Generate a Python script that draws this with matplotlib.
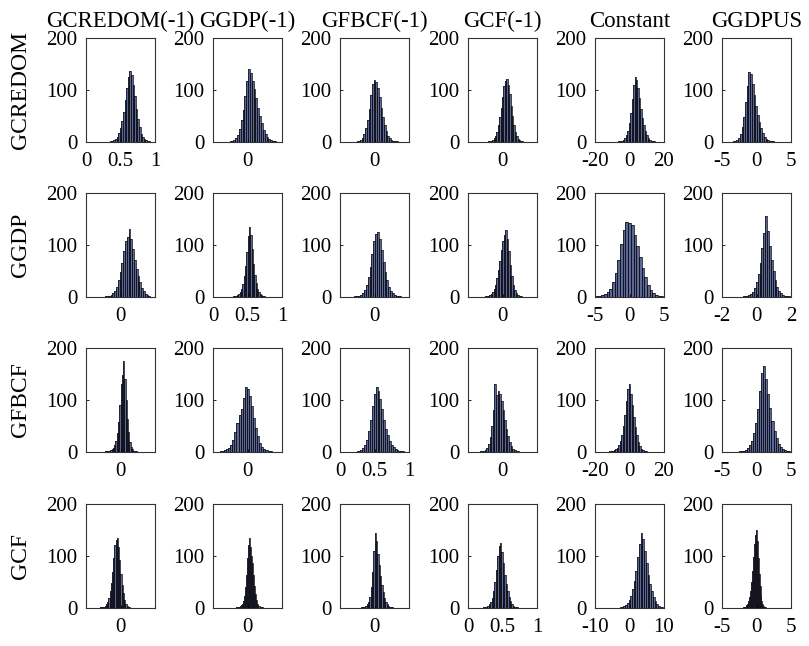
import matplotlib
matplotlib.use('Agg')
import matplotlib.pyplot as plt
import numpy as np

plt.rcParams['font.family'] = ['Liberation Serif', 'DejaVu Serif']

columns = ['GCREDOM(-1)', 'GGDP(-1)', 'GFBCF(-1)', 'GCF(-1)', 'Constant', 'GGDPUS']
rows = ['GCREDOM', 'GGDP', 'GFBCF', 'GCF']

# histogram counts (25 bins each)
gcredom_counts = [
    [1, 2, 3, 6, 10, 17, 27, 40, 58, 80, 104, 125, 137, 128, 110, 88, 64, 44, 28, 16, 9, 5, 3, 1, 1],
    [1, 2, 4, 8, 14, 25, 42, 62, 88, 118, 140, 132, 118, 102, 84, 66, 50, 36, 24, 15, 9, 5, 3, 1, 1],
    [1, 2, 4, 8, 15, 26, 42, 64, 90, 112, 120, 116, 104, 86, 66, 48, 33, 21, 12, 7, 4, 2, 1, 1, 0],
    [1, 1, 2, 4, 7, 12, 20, 32, 48, 66, 86, 108, 118, 122, 110, 92, 70, 50, 33, 20, 11, 6, 3, 1, 1],
    [1, 1, 2, 4, 7, 13, 22, 36, 56, 82, 110, 125, 120, 104, 84, 64, 46, 32, 21, 13, 8, 4, 2, 1, 1],
    [1, 2, 4, 8, 15, 28, 48, 76, 108, 135, 130, 112, 90, 70, 52, 38, 26, 17, 10, 6, 4, 2, 1, 1, 0],
]
ggdp_counts = [
    [1, 1, 2, 4, 7, 12, 20, 32, 48, 66, 88, 108, 116, 130, 112, 92, 72, 54, 40, 28, 18, 11, 6, 3, 1],
    [1, 1, 2, 3, 5, 9, 15, 25, 40, 60, 86, 118, 135, 120, 92, 64, 42, 26, 15, 9, 5, 3, 1, 1, 0],
    [1, 1, 2, 4, 8, 14, 24, 38, 58, 82, 108, 122, 125, 112, 90, 68, 48, 32, 20, 12, 7, 4, 2, 1, 1],
    [1, 1, 2, 3, 5, 9, 15, 24, 36, 52, 70, 90, 108, 120, 128, 112, 88, 62, 40, 24, 13, 7, 3, 1, 1],
    [1, 2, 3, 5, 9, 16, 28, 46, 72, 102, 128, 145, 142, 138, 120, 98, 76, 56, 38, 24, 14, 8, 4, 2, 1],
    [1, 1, 2, 3, 6, 10, 17, 28, 44, 66, 94, 124, 155, 126, 98, 72, 50, 33, 20, 12, 7, 4, 2, 1, 1],
]
gfbcf_counts = [
    [1, 1, 1, 2, 3, 5, 8, 13, 22, 36, 58, 90, 130, 148, 175, 140, 100, 64, 38, 20, 10, 5, 2, 1, 1],
    [1, 2, 3, 5, 8, 14, 24, 38, 56, 72, 82, 104, 125, 122, 108, 88, 66, 46, 30, 18, 10, 5, 3, 1, 1],
    [1, 2, 4, 7, 13, 24, 40, 62, 88, 112, 125, 118, 102, 82, 62, 45, 32, 22, 14, 9, 5, 3, 2, 1, 1],
    [1, 1, 2, 4, 8, 15, 28, 50, 80, 130, 110, 118, 112, 98, 80, 62, 45, 30, 19, 11, 6, 3, 2, 1, 0],
    [1, 1, 2, 3, 5, 8, 13, 21, 33, 50, 72, 98, 122, 130, 112, 90, 68, 48, 32, 20, 12, 6, 3, 1, 1],
    [1, 1, 2, 4, 7, 13, 22, 36, 56, 82, 118, 152, 165, 140, 112, 84, 60, 40, 26, 16, 9, 5, 3, 1, 1],
]
gcf_counts = [
    [1, 1, 1, 2, 4, 7, 12, 20, 32, 48, 70, 96, 122, 130, 135, 118, 92, 66, 44, 28, 16, 8, 4, 2, 1],
    [1, 1, 2, 3, 5, 8, 14, 24, 40, 64, 96, 122, 135, 118, 100, 86, 64, 42, 26, 15, 8, 4, 2, 1, 1],
    [1, 1, 2, 4, 7, 12, 22, 40, 70, 110, 145, 128, 104, 82, 62, 44, 30, 20, 12, 7, 4, 2, 1, 1, 0],
    [1, 1, 2, 4, 7, 12, 20, 32, 50, 74, 100, 120, 125, 108, 86, 64, 46, 32, 21, 13, 8, 4, 2, 1, 1],
    [1, 2, 3, 5, 9, 15, 24, 36, 52, 72, 98, 124, 145, 132, 110, 86, 64, 46, 32, 21, 13, 8, 4, 2, 1],
    [1, 1, 2, 3, 5, 8, 13, 21, 33, 50, 72, 98, 124, 140, 150, 128, 96, 66, 42, 25, 14, 7, 3, 1, 1],
]

# (lowest, highest) value covered by each histogram
gcredom_ranges = [(0.35, 0.93), (-0.52, 0.82), (-0.52, 0.72), (-0.42, 0.6), (-6.4, 14.8), (-3.4, 2.8)]
ggdp_ranges = [(-0.44, 0.86), (0.29, 0.77), (-0.58, 0.78), (-0.52, 0.56), (-4.9, 4.9), (-0.8, 1.92)]
gfbcf_ranges = [(-0.44, 0.48), (-0.8, 0.7), (0.24, 0.93), (-0.66, 0.52), (-11.6, 10.0), (-2.5, 4.8)]
gcf_ranges = [(-0.6, 0.28), (-0.32, 0.44), (-0.38, 0.58), (0.22, 0.73), (-2.8, 9.8), (-2.0, 1.4)]

# axis limits and ticks per panel
gcredom_xlims = [(0, 1), (-1, 1), (-1, 1), (-1, 1), (-20, 20), (-5, 5)]
ggdp_xlims = [(-1, 1), (0, 1), (-1, 1), (-1, 1), (-5, 5), (-2, 2)]
gfbcf_xlims = [(-1, 1), (-1, 1), (0, 1), (-1, 1), (-20, 20), (-5, 5)]
gcf_xlims = [(-1, 1), (-1, 1), (-1, 1), (0, 1), (-10, 10), (-5, 5)]

gcredom_xticks = [[0, 0.5, 1], [0], [0], [0], [-20, 0, 20], [-5, 0, 5]]
ggdp_xticks = [[0], [0, 0.5, 1], [0], [0], [-5, 0, 5], [-2, 0, 2]]
gfbcf_xticks = [[0], [0], [0, 0.5, 1], [0], [-20, 0, 20], [-5, 0, 5]]
gcf_xticks = [[0], [0], [0], [0, 0.5, 1], [-10, 0, 10], [-5, 0, 5]]

yticks = [0, 100, 200]

all_counts = [gcredom_counts, ggdp_counts, gfbcf_counts, gcf_counts]
all_ranges = [gcredom_ranges, ggdp_ranges, gfbcf_ranges, gcf_ranges]
all_xlims = [gcredom_xlims, ggdp_xlims, gfbcf_xlims, gcf_xlims]
all_xticks = [gcredom_xticks, ggdp_xticks, gfbcf_xticks, gcf_xticks]


def fmt(v):
    # matlab style labels: plain hyphen, no trailing .0
    if float(v).is_integer():
        return str(int(v))
    return str(v)


def draw_hist(ax, counts, rng):
    edges = np.linspace(rng[0], rng[1], len(counts) + 1)
    ax.stairs(counts, edges, fill=True, facecolor='#5a6898', edgecolor='none')
    ax.bar(edges[:-1], counts, width=np.diff(edges), align='edge',
           facecolor='none', edgecolor='#111118', linewidth=0.55)


def main():
    W, H = 809, 646
    fig = plt.figure(figsize=(W / 100, H / 100), dpi=100)

    col_left = [86, 213, 340, 468, 595, 722]
    row_top = [38, 193, 348, 504]
    pw, ph = 69, 104

    for i in range(4):
        for j in range(6):
            ax = fig.add_axes([col_left[j] / W, 1 - (row_top[i] + ph) / H, pw / W, ph / H])
            draw_hist(ax, all_counts[i][j], all_ranges[i][j])
            ax.set_xlim(*all_xlims[i][j])
            ax.set_ylim(0, 200)
            ax.set_xticks(all_xticks[i][j])
            ax.set_xticklabels([fmt(v) for v in all_xticks[i][j]])
            ax.set_yticks(yticks)
            ax.tick_params(direction='in', length=2, labelsize=15, width=0.6)
            ax.tick_params(axis='x', pad=7)
            ax.tick_params(axis='y', pad=6)
            for s in ax.spines.values():
                s.set_linewidth(0.8)
                s.set_color('#333333')
            if i == 0:
                ax.set_title(columns[j], fontsize=16.5, pad=8)
            if j == 0:
                ax.set_ylabel(rows[i], fontsize=17)
                ax.yaxis.set_label_coords(-0.8, 0.5)

    fig.savefig('out.png', dpi=100)


if __name__ == '__main__':
    main()
